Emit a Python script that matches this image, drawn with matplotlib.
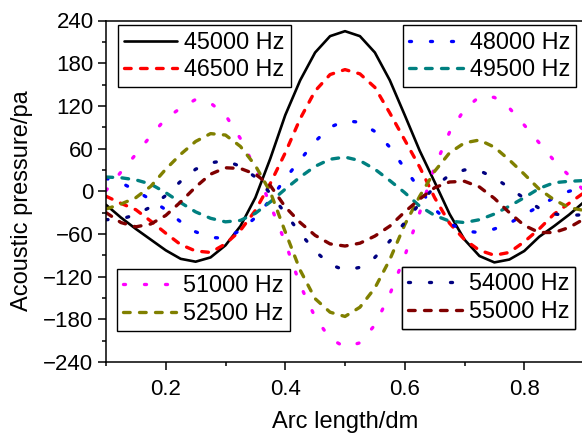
import matplotlib
matplotlib.use("Agg")
import matplotlib.pyplot as plt
from matplotlib.ticker import MultipleLocator

plt.rcParams['font.family'] = ['Liberation Sans', 'DejaVu Sans']

arc = [0.1, 0.125, 0.15, 0.175, 0.2, 0.225, 0.25, 0.275, 0.3, 0.325, 0.35, 0.375,
       0.4, 0.425, 0.45, 0.475, 0.5, 0.525, 0.55, 0.575, 0.6, 0.625, 0.65, 0.675,
       0.7, 0.725, 0.75, 0.775, 0.8, 0.825, 0.85, 0.875, 0.9]

p45000 = [-19, -37, -53, -68, -83, -95, -99, -93, -76, -49, -9, 46, 107, 156, 195, 218, 225,
          218, 195, 156, 107, 57, 13, -32, -68, -91, -100, -96, -84, -64, -49, -33, -15]
p46500 = [-7, -17, -26, -42, -59, -75, -84, -86, -74, -55, -27, 11, 54, 102, 141, 164, 171,
          165, 146, 110, 72, 34, -9, -45, -68, -83, -90, -86, -71, -53, -32, -17, -2]
p48000 = [18, 12, 1, -12, -26, -43, -57, -65, -66, -55, -37, -12, 18, 44, 70, 90, 99,
          97, 84, 62, 32, 3, -25, -45, -56, -58, -53, -45, -33, -21, -9, 0, 5]
p49500 = [20, 19, 16, 10, -2, -16, -29, -38, -43, -41, -31, -15, 3, 20, 35, 45, 48,
          43, 31, 15, -2, -21, -34, -42, -44, -40, -32, -21, -9, 4, 12, 14, 15]
p51000 = [1, 27, 52, 78, 102, 117, 129, 124, 107, 74, 32, -19, -72, -132, -177, -207, -219,
          -213, -188, -145, -91, -30, 34, 83, 115, 133, 132, 117, 93, 68, 43, 22, 1]
p52500 = [-25, -18, -9, 7, 31, 52, 70, 81, 79, 63, 36, -1, -57, -111, -151, -170, -176,
          -163, -136, -96, -47, -7, 28, 54, 68, 72, 62, 44, 24, 3, -12, -23, -27]
p54000 = [-40, -39, -33, -22, -6, 14, 31, 40, 43, 35, 20, -3, -31, -59, -84, -103, -111,
          -107, -93, -70, -44, -17, 6, 23, 30, 29, 19, 5, -10, -24, -32, -34, -33]
p55000 = [-30, -44, -50, -46, -34, -15, 6, 24, 33, 32, 24, 8, -22, -44, -62, -74, -77,
          -73, -63, -49, -29, -11, 5, 13, 14, 6, -10, -30, -48, -58, -58, -51, -39]

labels = ["45000 Hz", "46500 Hz", "48000 Hz", "49500 Hz",
          "51000 Hz", "52500 Hz", "54000 Hz", "55000 Hz"]
colors = ["#000000", "#FF0000", "#0000FF", "#008080",
          "#FF00FF", "#808000", "#000080", "#800000"]
series = [p45000, p46500, p48000, p49500, p51000, p52500, p54000, p55000]
xtick_labels = ["0.2", "0.4", "0.6", "0.8"]
xtick_vals = [0.2, 0.4, 0.6, 0.8]

DASH = (0, (2.0, 2.8))
DOT = (0, (0.6, 5.7))
styles = ["-", DASH, DOT, DASH, DOT, DASH, DOT, DASH]

fig = plt.figure(figsize=(5.82, 4.34), dpi=100)
ax = fig.add_axes([106 / 582, 1 - 362 / 434, 478 / 582, 341.5 / 434])

lines = []
for y, lab, c, ls in zip(series, labels, colors, styles):
    lw = 1.9 if ls == "-" else 2.4
    ln, = ax.plot(arc, y, color=c, linestyle=ls, linewidth=lw, label=lab,
                  dash_capstyle='round', solid_capstyle='round', solid_joinstyle='round')
    lines.append(ln)

ax.set_xlim(0.1, 0.9)
ax.set_ylim(-240, 240)
ax.xaxis.set_minor_locator(MultipleLocator(0.1))
ax.yaxis.set_major_locator(MultipleLocator(60))
ax.yaxis.set_minor_locator(MultipleLocator(30))
ax.set_xticks(xtick_vals)
ax.set_xticklabels(xtick_labels)
ax.tick_params(axis='both', which='major', direction='out', length=6, width=1.1,
               labelsize=16)
ax.tick_params(axis='x', which='major', pad=6)
ax.tick_params(axis='y', which='major', pad=3)
ax.tick_params(axis='both', which='minor', direction='out', length=3, width=1.1)
for sp in ax.spines.values():
    sp.set_linewidth(1.1)
ax.spines['right'].set_visible(False)

ax.set_xlabel("Arc length/dm", fontsize=17, labelpad=8)
ax.set_ylabel("Acoustic pressure/pa", fontsize=17)
ax.yaxis.set_label_coords(-0.153, 0.474)

leg_kw = dict(fontsize=16.8, frameon=True, fancybox=False, shadow=False,
              handlelength=2.3, handletextpad=0.3, borderpad=0.25,
              labelspacing=0.2, borderaxespad=0.0, framealpha=1)

def add_leg(idx, loc, anchor):
    lg = ax.legend([lines[i] for i in idx], [labels[i] for i in idx],
                   loc=loc, bbox_to_anchor=anchor, **leg_kw)
    lg.get_frame().set_edgecolor('black')
    lg.get_frame().set_linewidth(1.0)
    ax.add_artist(lg)
    return lg

add_leg([0, 1], 'upper left', (0.025, 0.987))
add_leg([2, 3], 'upper right', (0.983, 0.987))
add_leg([4, 5], 'lower left', (0.023, 0.091))
add_leg([6, 7], 'lower right', (0.981, 0.097))

fig.savefig("out.png", dpi=100)
